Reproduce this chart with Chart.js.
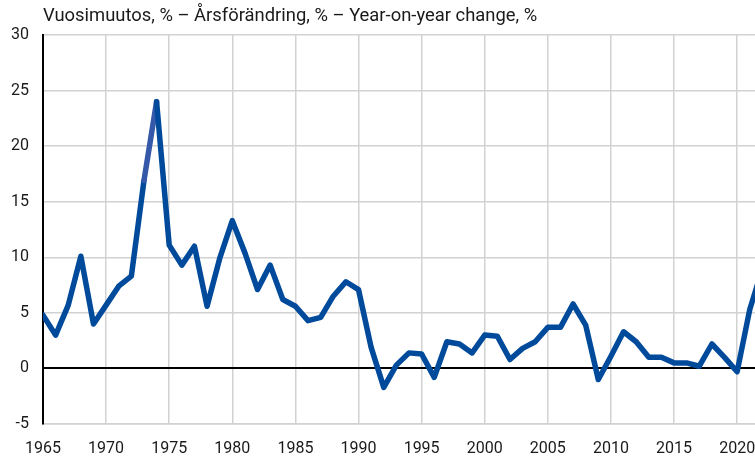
<!DOCTYPE html>
<html lang="en">
<head>
  <meta charset="UTF-8" />
  <title>Vuosimuutos</title>
  <script src="https://cdn.jsdelivr.net/npm/chart.js"></script>
  <style>
    html, body {
      margin: 0;
      padding: 0;
      background: #fff;
      overflow: hidden;
    }
    .wrap {
      width: 775px;
      height: 459px;
    }
  </style>
</head>
<body>

<div class="wrap">
  <canvas id="chart" width="775" height="459"></canvas>
</div>

<script>
  // Year-on-year change, %
  const years = [
    1965, 1966, 1967, 1968, 1969, 1970, 1971, 1972, 1973, 1974,
    1975, 1976, 1977, 1978, 1979, 1980, 1981, 1982, 1983, 1984,
    1985, 1986, 1987, 1988, 1989, 1990, 1991, 1992, 1993, 1994,
    1995, 1996, 1997, 1998, 1999, 2000, 2001, 2002, 2003, 2004,
    2005, 2006, 2007, 2008, 2009, 2010, 2011, 2012, 2013, 2014,
    2015, 2016, 2017, 2018, 2019, 2020, 2021, 2022
  ];
  const changes = [
    4.8, 3.0, 5.7, 10.1, 4.0, 5.7, 7.4, 8.3, 16.9, 24.0,
    11.1, 9.3, 11.0, 5.6, 9.9, 13.3, 10.4, 7.1, 9.3, 6.2,
    5.6, 4.3, 4.6, 6.5, 7.8, 7.1, 1.9, -1.7, 0.3, 1.4,
    1.3, -0.8, 2.4, 2.2, 1.4, 3.0, 2.9, 0.8, 1.8, 2.4,
    3.7, 3.7, 5.8, 3.9, -1.0, 1.1, 3.3, 2.4, 1.0, 1.0,
    0.5, 0.5, 0.2, 2.2, 1.0, -0.3, 5.3, 9.0
  ];
  const xTickValues = [1965, 1970, 1975, 1980, 1985, 1990, 1995, 2000, 2005, 2010, 2015, 2020];
  const yTicks = { min: -5, max: 30, step: 5 };
  const titleText = 'Vuosimuutos, % \u2013 \u00c5rsf\u00f6r\u00e4ndring, % \u2013 Year-on-year change, %';

  const lineBlue = '#004a9b';
  const lightBlue = '#3558a9';
  const gridGrey = '#d2d2d2';

  const points = years.map((y, i) => ({ x: y, y: changes[i] }));

  const ctx = document.getElementById('chart').getContext('2d');
  new Chart(ctx, {
    type: 'line',
    data: {
      datasets: [{
        data: points,
        borderColor: lineBlue,
        borderWidth: 5.5,
        borderJoinStyle: 'round',
        borderCapStyle: 'round',
        pointRadius: 0,
        tension: 0,
        fill: false,
        segment: {
          borderColor: c => (c.p0.parsed.x === 1973 ? lightBlue : lineBlue)
        }
      }]
    },
    options: {
      responsive: false,
      animation: false,
      layout: { padding: { left: 0, right: 0, top: 5, bottom: 0 } },
      plugins: {
        legend: { display: false },
        tooltip: { enabled: false },
        title: {
          display: true,
          text: titleText,
          align: 'start',
          fullSize: false,
          color: '#1a1a1a',
          font: { family: 'Roboto', size: 18.4, weight: 'normal' },
          padding: { top: 0, bottom: 8 }
        }
      },
      scales: {
        x: {
          type: 'linear',
          min: 1965,
          max: 2023,
          afterBuildTicks: scale => {
            scale.ticks = xTickValues.map(v => ({ value: v }));
          },
          afterFit: scale => { scale.height = 35; },
          grid: {
            color: gridGrey,
            lineWidth: 1.5,
            drawTicks: false
          },
          border: { display: true, color: gridGrey, width: 1.5 },
          ticks: {
            autoSkip: false,
            maxRotation: 0,
            padding: 15,
            color: '#1a1a1a',
            font: { family: 'Roboto', size: 16 },
            callback: v => String(v)
          }
        },
        y: {
          min: yTicks.min,
          max: yTicks.max,
          afterFit: scale => { scale.width = 43; },
          grid: {
            color: c => (c.tick.value === 0 ? '#000' : gridGrey),
            lineWidth: c => (c.tick.value === 0 ? 2 : 1.5),
            drawTicks: false
          },
          border: { display: true, color: '#000', width: 2 },
          ticks: {
            stepSize: yTicks.step,
            padding: 14,
            color: '#1a1a1a',
            font: { family: 'Roboto', size: 16 }
          }
        }
      }
    }
  });
</script>

</body>
</html>
